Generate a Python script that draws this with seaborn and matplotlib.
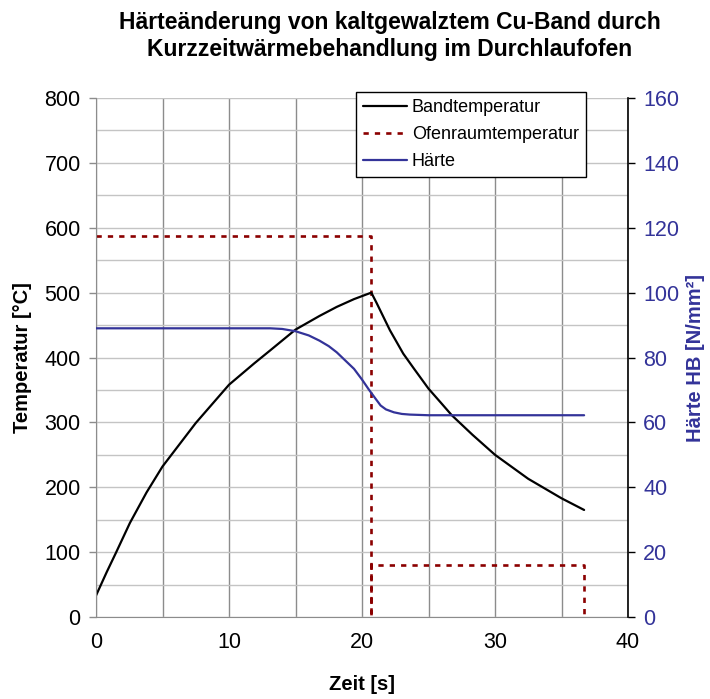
import numpy as np
import pandas as pd
import matplotlib
matplotlib.use("Agg")
import matplotlib.pyplot as plt
import seaborn as sns

# Bandtemperatur (strip temperature) over time
zeit_band = [0, 0.8, 1.5, 2.55, 3.8, 5, 7.5, 10, 11.9, 13.1, 15, 16.8, 18.1,
             19.4, 20.7, 21.1, 22.1, 23.1, 23.9, 25, 25.9, 26.75, 28.3, 30,
             32.5, 35, 36.7]
band_temp = [33, 69, 99, 145, 192, 232, 299, 358, 391, 411, 443, 464, 478,
             490, 500, 484, 442, 406, 383, 352, 331, 311, 281, 250,
             213, 183, 165]

# Ofenraumtemperatur (furnace chamber temperature), stepped profile
zeit_ofen = [0, 20.7, 20.7, 20.7, 36.7, 36.7]
ofen_temp = [588, 588, 0, 80, 80, 0]

# Härte (hardness) over time
zeit_haerte = [0, 13.1, 14, 15, 16, 16.8, 17.5, 18.1, 19.4, 20.0, 20.5, 21.0,
               21.4, 21.8, 22.4, 23.0, 23.6, 25, 36.7]
haerte = [89, 89, 88.8, 88.1, 86.8, 85.2, 83.5, 81.6, 76.5, 73.2, 70.2, 67.4,
          65.2, 64.0, 63.1, 62.6, 62.4, 62.2, 62.2]

x_ticks = [0, 10, 20, 30, 40]
y_ticks_left = [0, 100, 200, 300, 400, 500, 600, 700, 800]
y_ticks_right = [0, 20, 40, 60, 80, 100, 120, 140, 160]

sns.set_style("white")
plt.rcParams["font.family"] = ["Liberation Sans", "DejaVu Sans"]
plt.rcParams["text.color"] = "black"
plt.rcParams["axes.labelcolor"] = "black"

BLUE = "#333399"
RED = "#8b0000"
GRID_V = "#8c8c8c"
GRID_H = "#c4c4c4"

df_band = pd.DataFrame({"Zeit": zeit_band, "T": band_temp})
df_ofen = pd.DataFrame({"Zeit": zeit_ofen, "T": ofen_temp})
df_haerte = pd.DataFrame({"Zeit": zeit_haerte, "HB": haerte})

fig = plt.figure(figsize=(7.10, 6.99), dpi=100)
ax = fig.add_axes([96 / 710, 1 - 617 / 699, (628 - 96) / 710, (617 - 98) / 699])
ax2 = ax.twinx()

sns.lineplot(data=df_ofen, x="Zeit", y="T", ax=ax, sort=False, estimator=None,
             color=RED, linewidth=1.9, linestyle=(0, (2.0, 2.3)),
             label="Ofenraumtemperatur", legend=False)
sns.lineplot(data=df_band, x="Zeit", y="T", ax=ax, sort=False, estimator=None,
             color="black", linewidth=1.6, label="Bandtemperatur", legend=False)
sns.lineplot(data=df_haerte, x="Zeit", y="HB", ax=ax2, sort=False, estimator=None,
             color=BLUE, linewidth=1.6, label="Härte", legend=False)

ax.set_xlim(0, 40)
ax.set_ylim(0, 800)
ax2.set_ylim(0, 160)

ax.set_xticks(x_ticks)
ax.set_xticks(np.arange(0, 41, 5), minor=True)
ax.set_yticks(y_ticks_left)
ax.set_yticks(np.arange(0, 801, 50), minor=True)
ax2.set_yticks(y_ticks_right)

ax.grid(True, which="both", axis="x", color=GRID_V, linewidth=1.0)
ax.grid(True, which="both", axis="y", color=GRID_H, linewidth=1.0)
ax.set_axisbelow(True)
ax2.grid(False)

tick_fs = 15.5
ax.tick_params(axis="both", which="major", direction="out", length=5,
               width=1, color=GRID_V, labelsize=tick_fs, pad=6, labelcolor="black")
ax.tick_params(axis="both", which="minor", length=0)
ax2.tick_params(axis="y", which="major", direction="out", length=5, width=1,
                color="black", labelsize=tick_fs, labelcolor=BLUE, pad=6)

for s in ["top", "right"]:
    ax.spines[s].set_visible(False)
ax.spines["left"].set_color(GRID_V)
ax.spines["bottom"].set_color(GRID_V)
for s in ["top", "left", "bottom"]:
    ax2.spines[s].set_visible(False)
ax2.spines["right"].set_color("black")
ax2.spines["right"].set_linewidth(1.2)

ax.set_xlabel("Zeit [s]", fontsize=14.5, fontweight="bold", labelpad=16)
ax.set_ylabel("Temperatur [°C]", fontsize=14.5, fontweight="bold", labelpad=9)
ax2.set_ylabel("Härte HB [N/mm²]", fontsize=14.5, fontweight="bold",
               color=BLUE, labelpad=5)

fig.text(390 / 710, 1 - 36 / 699,
         "Härteänderung von kaltgewalztem Cu-Band durch\nKurzzeitwärmebehandlung im Durchlaufofen",
         ha="center", va="center", fontsize=16.5, fontweight="bold",
         linespacing=1.25)

h1, l1 = ax.get_legend_handles_labels()
h2, l2 = ax2.get_legend_handles_labels()
order = [1, 0]
handles = [h1[i] for i in order] + h2
labels = [l1[i] for i in order] + l2
leg = fig.legend(handles, labels, loc="upper left",
                 bbox_to_anchor=(356 / 710, 1 - 92 / 699),
                 fontsize=13, frameon=True, fancybox=False, framealpha=1,
                 edgecolor="black", handlelength=2.4, handletextpad=0.3,
                 labelspacing=0.55, borderpad=0.4, borderaxespad=0)
leg.get_frame().set_linewidth(1.0)

fig.savefig("out.png", dpi=100)
